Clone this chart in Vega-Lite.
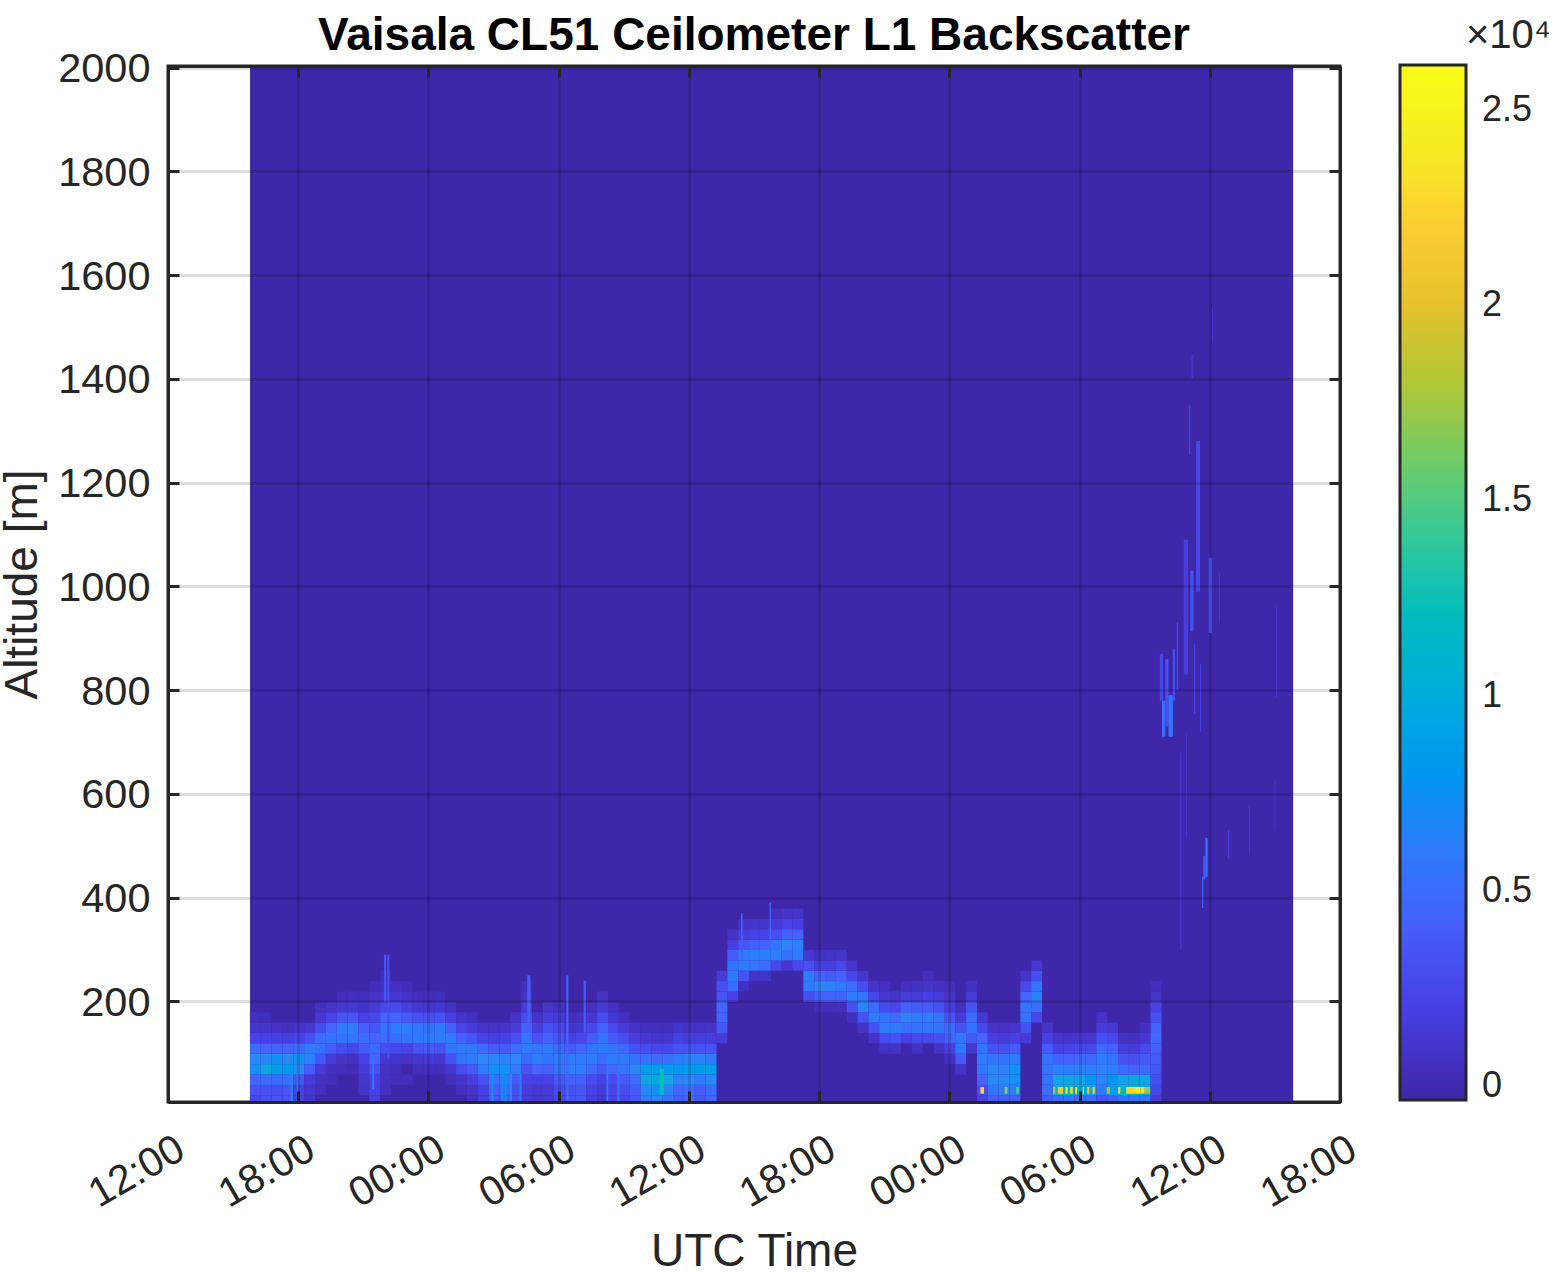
{"$schema":"https://vega.github.io/schema/vega-lite/v6.json","width":1172,"height":1036,"autosize":{"type":"none"},"padding":{"left":168,"top":66,"right":216,"bottom":170},"background":"white","config":{"font":"Liberation Sans","view":{"stroke":"#262626","strokeWidth":3}},"title":{"text":"Vaisala CL51 Ceilometer L1 Backscatter","font":"Liberation Sans","fontSize":46,"fontWeight":"bold","color":"#000000","anchor":"middle","offset":-44},
"datasets":{"bg":[{"h":15.78,"h2":63.84,"a":6,"a2":2003,"v":-300}],
"band":[
{"h":16,"a":10,"v":2500},{"h":16,"a":30,"v":3000},{"h":16,"a":50,"v":4500},{"h":16,"a":70,"v":7500},{"h":16,"a":90,"v":7000},{"h":16,"a":110,"v":5000},{"h":16,"a":130,"v":2200},{"h":16,"a":150,"v":1000},{"h":16,"a":170,"v":600},
{"h":16.5,"a":10,"v":3000},{"h":16.5,"a":30,"v":3000},{"h":16.5,"a":50,"v":5000},{"h":16.5,"a":70,"v":9500},{"h":16.5,"a":90,"v":7000},{"h":16.5,"a":110,"v":4500},{"h":16.5,"a":130,"v":2000},{"h":16.5,"a":150,"v":900},{"h":16.5,"a":170,"v":500},
{"h":17,"a":10,"v":3500},{"h":17,"a":30,"v":3000},{"h":17,"a":50,"v":5000},{"h":17,"a":70,"v":8500},{"h":17,"a":90,"v":7500},{"h":17,"a":110,"v":4500},{"h":17,"a":130,"v":2000},{"h":17,"a":150,"v":800},
{"h":17.5,"a":10,"v":3500},{"h":17.5,"a":30,"v":3500},{"h":17.5,"a":50,"v":5500},{"h":17.5,"a":70,"v":8000},{"h":17.5,"a":90,"v":7000},{"h":17.5,"a":110,"v":4500},{"h":17.5,"a":130,"v":1800},{"h":17.5,"a":150,"v":700},
{"h":18,"a":10,"v":1800},{"h":18,"a":30,"v":2000},{"h":18,"a":50,"v":3500},{"h":18,"a":70,"v":7000},{"h":18,"a":90,"v":7500},{"h":18,"a":110,"v":5000},{"h":18,"a":130,"v":2200},{"h":18,"a":150,"v":900},
{"h":18.5,"a":10,"v":1000},{"h":18.5,"a":30,"v":1000},{"h":18.5,"a":50,"v":1500},{"h":18.5,"a":70,"v":4000},{"h":18.5,"a":90,"v":6500},{"h":18.5,"a":110,"v":6000},{"h":18.5,"a":130,"v":3000},{"h":18.5,"a":150,"v":1200},
{"h":19,"a":30,"v":500},{"h":19,"a":50,"v":700},{"h":19,"a":70,"v":1500},{"h":19,"a":90,"v":3500},{"h":19,"a":110,"v":5500},{"h":19,"a":130,"v":5000},{"h":19,"a":150,"v":2800},{"h":19,"a":170,"v":1200},{"h":19,"a":190,"v":500},
{"h":19.5,"a":50,"v":400},{"h":19.5,"a":70,"v":600},{"h":19.5,"a":90,"v":1500},{"h":19.5,"a":110,"v":4000},{"h":19.5,"a":130,"v":5500},{"h":19.5,"a":150,"v":4500},{"h":19.5,"a":170,"v":2200},{"h":19.5,"a":190,"v":900},
{"h":20,"a":70,"v":400},{"h":20,"a":90,"v":800},{"h":20,"a":110,"v":2800},{"h":20,"a":130,"v":5500},{"h":20,"a":150,"v":6000},{"h":20,"a":170,"v":3500},{"h":20,"a":190,"v":1200},{"h":20,"a":210,"v":400},
{"h":20.5,"a":70,"v":300},{"h":20.5,"a":90,"v":600},{"h":20.5,"a":110,"v":2500},{"h":20.5,"a":130,"v":5500},{"h":20.5,"a":150,"v":6000},{"h":20.5,"a":170,"v":3500},{"h":20.5,"a":190,"v":1300},{"h":20.5,"a":210,"v":500},
{"h":21,"a":30,"v":1000},{"h":21,"a":50,"v":1200},{"h":21,"a":70,"v":1500},{"h":21,"a":90,"v":2000},{"h":21,"a":110,"v":3800},{"h":21,"a":130,"v":5000},{"h":21,"a":150,"v":4000},{"h":21,"a":170,"v":2000},{"h":21,"a":190,"v":1000},{"h":21,"a":210,"v":500},
{"h":21.5,"a":10,"v":1800},{"h":21.5,"a":30,"v":2000},{"h":21.5,"a":50,"v":2000},{"h":21.5,"a":70,"v":3000},{"h":21.5,"a":90,"v":4500},{"h":21.5,"a":110,"v":5000},{"h":21.5,"a":130,"v":4500},{"h":21.5,"a":150,"v":3500},{"h":21.5,"a":170,"v":2500},{"h":21.5,"a":190,"v":1500},{"h":21.5,"a":210,"v":800},{"h":21.5,"a":230,"v":400},
{"h":22,"a":30,"v":600},{"h":22,"a":50,"v":700},{"h":22,"a":70,"v":700},{"h":22,"a":90,"v":1300},{"h":22,"a":110,"v":3000},{"h":22,"a":130,"v":5000},{"h":22,"a":150,"v":5500},{"h":22,"a":170,"v":4500},{"h":22,"a":190,"v":2500},{"h":22,"a":210,"v":1200},{"h":22,"a":230,"v":700},{"h":22,"a":250,"v":400},
{"h":22.5,"a":50,"v":400},{"h":22.5,"a":70,"v":400},{"h":22.5,"a":90,"v":1000},{"h":22.5,"a":110,"v":2500},{"h":22.5,"a":130,"v":5000},{"h":22.5,"a":150,"v":6000},{"h":22.5,"a":170,"v":4500},{"h":22.5,"a":190,"v":2800},{"h":22.5,"a":210,"v":1300},{"h":22.5,"a":230,"v":600},
{"h":23,"a":50,"v":400},{"h":23,"a":90,"v":800},{"h":23,"a":110,"v":2200},{"h":23,"a":130,"v":5500},{"h":23,"a":150,"v":6000},{"h":23,"a":170,"v":3800},{"h":23,"a":190,"v":1800},{"h":23,"a":210,"v":800},{"h":23,"a":230,"v":300},
{"h":23.5,"a":70,"v":500},{"h":23.5,"a":90,"v":1100},{"h":23.5,"a":110,"v":3300},{"h":23.5,"a":130,"v":5800},{"h":23.5,"a":150,"v":5500},{"h":23.5,"a":170,"v":3300},{"h":23.5,"a":190,"v":1300},{"h":23.5,"a":210,"v":500},
{"h":24,"a":70,"v":600},{"h":24,"a":90,"v":1500},{"h":24,"a":110,"v":3800},{"h":24,"a":130,"v":6000},{"h":24,"a":150,"v":5500},{"h":24,"a":170,"v":3000},{"h":24,"a":190,"v":1200},{"h":24,"a":210,"v":400},
{"h":24.5,"a":70,"v":500},{"h":24.5,"a":90,"v":1200},{"h":24.5,"a":110,"v":3300},{"h":24.5,"a":130,"v":6000},{"h":24.5,"a":150,"v":6000},{"h":24.5,"a":170,"v":3200},{"h":24.5,"a":190,"v":1300},{"h":24.5,"a":210,"v":500},
{"h":25,"a":50,"v":500},{"h":25,"a":70,"v":1200},{"h":25,"a":90,"v":3300},{"h":25,"a":110,"v":5500},{"h":25,"a":130,"v":6000},{"h":25,"a":150,"v":4000},{"h":25,"a":170,"v":1800},{"h":25,"a":190,"v":700},
{"h":25.5,"a":30,"v":500},{"h":25.5,"a":50,"v":1000},{"h":25.5,"a":70,"v":2800},{"h":25.5,"a":90,"v":5500},{"h":25.5,"a":110,"v":6000},{"h":25.5,"a":130,"v":4300},{"h":25.5,"a":150,"v":2200},{"h":25.5,"a":170,"v":900},
{"h":26,"a":10,"v":600},{"h":26,"a":30,"v":800},{"h":26,"a":50,"v":1800},{"h":26,"a":70,"v":3800},{"h":26,"a":90,"v":6000},{"h":26,"a":110,"v":6000},{"h":26,"a":130,"v":3500},{"h":26,"a":150,"v":1500},{"h":26,"a":170,"v":600},
{"h":26.5,"a":10,"v":1800},{"h":26.5,"a":30,"v":2000},{"h":26.5,"a":50,"v":3300},{"h":26.5,"a":70,"v":6000},{"h":26.5,"a":90,"v":6800},{"h":26.5,"a":110,"v":4800},{"h":26.5,"a":130,"v":2200},{"h":26.5,"a":150,"v":900},
{"h":27,"a":10,"v":3500},{"h":27,"a":30,"v":4000},{"h":27,"a":50,"v":5200},{"h":27,"a":70,"v":7500},{"h":27,"a":90,"v":6800},{"h":27,"a":110,"v":3800},{"h":27,"a":130,"v":1800},{"h":27,"a":150,"v":800},
{"h":27.5,"a":10,"v":4000},{"h":27.5,"a":30,"v":4200},{"h":27.5,"a":50,"v":5500},{"h":27.5,"a":70,"v":7500},{"h":27.5,"a":90,"v":6500},{"h":27.5,"a":110,"v":3800},{"h":27.5,"a":130,"v":2000},{"h":27.5,"a":150,"v":900},
{"h":28,"a":10,"v":2800},{"h":28,"a":30,"v":3000},{"h":28,"a":50,"v":3800},{"h":28,"a":70,"v":6000},{"h":28,"a":90,"v":6800},{"h":28,"a":110,"v":5000},{"h":28,"a":130,"v":3000},{"h":28,"a":150,"v":1500},{"h":28,"a":170,"v":800},
{"h":28.5,"a":10,"v":1500},{"h":28.5,"a":30,"v":1600},{"h":28.5,"a":50,"v":2000},{"h":28.5,"a":70,"v":3300},{"h":28.5,"a":90,"v":4800},{"h":28.5,"a":110,"v":6000},{"h":28.5,"a":130,"v":5500},{"h":28.5,"a":150,"v":4300},{"h":28.5,"a":170,"v":2800},{"h":28.5,"a":190,"v":1600},{"h":28.5,"a":210,"v":800},{"h":28.5,"a":230,"v":500},
{"h":29,"a":10,"v":1200},{"h":29,"a":30,"v":1300},{"h":29,"a":50,"v":2000},{"h":29,"a":70,"v":4500},{"h":29,"a":90,"v":6000},{"h":29,"a":110,"v":5500},{"h":29,"a":130,"v":3300},{"h":29,"a":150,"v":1800},{"h":29,"a":170,"v":800},
{"h":29.5,"a":10,"v":1500},{"h":29.5,"a":30,"v":1500},{"h":29.5,"a":50,"v":2200},{"h":29.5,"a":70,"v":4300},{"h":29.5,"a":90,"v":5500},{"h":29.5,"a":110,"v":6000},{"h":29.5,"a":130,"v":4300},{"h":29.5,"a":150,"v":3000},{"h":29.5,"a":170,"v":1800},{"h":29.5,"a":190,"v":900},
{"h":30,"a":10,"v":2500},{"h":30,"a":30,"v":2800},{"h":30,"a":50,"v":3800},{"h":30,"a":70,"v":5500},{"h":30,"a":90,"v":6000},{"h":30,"a":110,"v":5000},{"h":30,"a":130,"v":3300},{"h":30,"a":150,"v":2500},{"h":30,"a":170,"v":1500},{"h":30,"a":190,"v":700},
{"h":30.5,"a":10,"v":3000},{"h":30.5,"a":30,"v":3000},{"h":30.5,"a":50,"v":4300},{"h":30.5,"a":70,"v":6500},{"h":30.5,"a":90,"v":6000},{"h":30.5,"a":110,"v":3800},{"h":30.5,"a":130,"v":2000},{"h":30.5,"a":150,"v":1000},{"h":30.5,"a":170,"v":500},
{"h":31,"a":10,"v":3500},{"h":31,"a":30,"v":3500},{"h":31,"a":50,"v":4300},{"h":31,"a":70,"v":6000},{"h":31,"a":90,"v":6000},{"h":31,"a":110,"v":4500},{"h":31,"a":130,"v":2500},{"h":31,"a":150,"v":1300},{"h":31,"a":170,"v":700},
{"h":31.5,"a":10,"v":1800},{"h":31.5,"a":30,"v":2000},{"h":31.5,"a":50,"v":2800},{"h":31.5,"a":70,"v":4800},{"h":31.5,"a":90,"v":6000},{"h":31.5,"a":110,"v":5500},{"h":31.5,"a":130,"v":3800},{"h":31.5,"a":150,"v":2500},{"h":31.5,"a":170,"v":1200},{"h":31.5,"a":190,"v":600},
{"h":32,"a":10,"v":1300},{"h":32,"a":30,"v":1500},{"h":32,"a":50,"v":2000},{"h":32,"a":70,"v":3600},{"h":32,"a":90,"v":5000},{"h":32,"a":110,"v":6000},{"h":32,"a":130,"v":5500},{"h":32,"a":150,"v":4300},{"h":32,"a":170,"v":2800},{"h":32,"a":190,"v":1500},{"h":32,"a":210,"v":800},
{"h":32.5,"a":10,"v":2000},{"h":32.5,"a":30,"v":2200},{"h":32.5,"a":50,"v":2800},{"h":32.5,"a":70,"v":4700},{"h":32.5,"a":90,"v":6000},{"h":32.5,"a":110,"v":5500},{"h":32.5,"a":130,"v":3800},{"h":32.5,"a":150,"v":2500},{"h":32.5,"a":170,"v":1300},{"h":32.5,"a":190,"v":600},
{"h":33,"a":10,"v":2500},{"h":33,"a":30,"v":2800},{"h":33,"a":50,"v":3800},{"h":33,"a":70,"v":5500},{"h":33,"a":90,"v":6000},{"h":33,"a":110,"v":4700},{"h":33,"a":130,"v":2800},{"h":33,"a":150,"v":1400},{"h":33,"a":170,"v":600},
{"h":33.5,"a":10,"v":3500},{"h":33.5,"a":30,"v":3800},{"h":33.5,"a":50,"v":5000},{"h":33.5,"a":70,"v":6800},{"h":33.5,"a":90,"v":5500},{"h":33.5,"a":110,"v":3300},{"h":33.5,"a":130,"v":1700},{"h":33.5,"a":150,"v":800},
{"h":34,"a":10,"v":6000},{"h":34,"a":30,"v":7000},{"h":34,"a":50,"v":9500},{"h":34,"a":70,"v":8500},{"h":34,"a":90,"v":5200},{"h":34,"a":110,"v":2800},{"h":34,"a":130,"v":1200},{"h":34,"a":150,"v":500},
{"h":34.5,"a":10,"v":6500},{"h":34.5,"a":30,"v":7500},{"h":34.5,"a":50,"v":10000},{"h":34.5,"a":70,"v":8500},{"h":34.5,"a":90,"v":4800},{"h":34.5,"a":110,"v":2400},{"h":34.5,"a":130,"v":1000},{"h":34.5,"a":150,"v":500},
{"h":35,"a":10,"v":5500},{"h":35,"a":30,"v":6500},{"h":35,"a":50,"v":9000},{"h":35,"a":70,"v":8500},{"h":35,"a":90,"v":5200},{"h":35,"a":110,"v":2500},{"h":35,"a":130,"v":1000},{"h":35,"a":150,"v":500},
{"h":35.5,"a":10,"v":4000},{"h":35.5,"a":30,"v":4500},{"h":35.5,"a":50,"v":6500},{"h":35.5,"a":70,"v":8000},{"h":35.5,"a":90,"v":6000},{"h":35.5,"a":110,"v":3300},{"h":35.5,"a":130,"v":2000},{"h":35.5,"a":150,"v":1000},
{"h":36,"a":10,"v":4500},{"h":36,"a":30,"v":5000},{"h":36,"a":50,"v":7000},{"h":36,"a":70,"v":8500},{"h":36,"a":90,"v":6500},{"h":36,"a":110,"v":3300},{"h":36,"a":130,"v":1700},{"h":36,"a":150,"v":800},
{"h":36.5,"a":10,"v":3500},{"h":36.5,"a":30,"v":4000},{"h":36.5,"a":50,"v":6000},{"h":36.5,"a":70,"v":8500},{"h":36.5,"a":90,"v":6500},{"h":36.5,"a":110,"v":3300},{"h":36.5,"a":130,"v":1800},{"h":36.5,"a":150,"v":800},
{"h":37,"a":10,"v":4500},{"h":37,"a":30,"v":5000},{"h":37,"a":50,"v":7000},{"h":37,"a":70,"v":8500},{"h":37,"a":90,"v":6000},{"h":37,"a":110,"v":3300},{"h":37,"a":130,"v":1700},{"h":37,"a":150,"v":800},
{"h":37.5,"a":130,"v":1500},{"h":37.5,"a":150,"v":3500},{"h":37.5,"a":170,"v":4500},{"h":37.5,"a":190,"v":4500},{"h":37.5,"a":210,"v":3500},{"h":37.5,"a":230,"v":3000},{"h":37.5,"a":250,"v":1500},
{"h":38,"a":210,"v":2000},{"h":38,"a":230,"v":4800},{"h":38,"a":250,"v":6000},{"h":38,"a":270,"v":5500},{"h":38,"a":290,"v":3800},{"h":38,"a":310,"v":1800},{"h":38,"a":330,"v":800},
{"h":38.5,"a":230,"v":700},{"h":38.5,"a":250,"v":3300},{"h":38.5,"a":270,"v":6000},{"h":38.5,"a":290,"v":6000},{"h":38.5,"a":310,"v":3500},{"h":38.5,"a":330,"v":1800},{"h":38.5,"a":350,"v":800},
{"h":39,"a":250,"v":1000},{"h":39,"a":270,"v":5500},{"h":39,"a":290,"v":6300},{"h":39,"a":310,"v":4000},{"h":39,"a":330,"v":2000},{"h":39,"a":350,"v":900},
{"h":39.5,"a":250,"v":1000},{"h":39.5,"a":270,"v":5000},{"h":39.5,"a":290,"v":6300},{"h":39.5,"a":310,"v":4300},{"h":39.5,"a":330,"v":2200},{"h":39.5,"a":350,"v":1000},
{"h":40,"a":270,"v":2500},{"h":40,"a":290,"v":6300},{"h":40,"a":310,"v":5500},{"h":40,"a":330,"v":3000},{"h":40,"a":350,"v":1500},{"h":40,"a":370,"v":600},
{"h":40.5,"a":270,"v":1200},{"h":40.5,"a":290,"v":5500},{"h":40.5,"a":310,"v":6800},{"h":40.5,"a":330,"v":4300},{"h":40.5,"a":350,"v":2200},{"h":40.5,"a":370,"v":1000},
{"h":41,"a":270,"v":2500},{"h":41,"a":290,"v":6000},{"h":41,"a":310,"v":6300},{"h":41,"a":330,"v":4300},{"h":41,"a":350,"v":2000},{"h":41,"a":370,"v":900},
{"h":41.5,"a":210,"v":3000},{"h":41.5,"a":230,"v":6000},{"h":41.5,"a":250,"v":6000},{"h":41.5,"a":270,"v":3000},{"h":41.5,"a":290,"v":1200},
{"h":42,"a":190,"v":400},{"h":42,"a":210,"v":4300},{"h":42,"a":230,"v":6800},{"h":42,"a":250,"v":4300},{"h":42,"a":270,"v":1800},{"h":42,"a":290,"v":700},
{"h":42.5,"a":190,"v":400},{"h":42.5,"a":210,"v":4300},{"h":42.5,"a":230,"v":6500},{"h":42.5,"a":250,"v":3800},{"h":42.5,"a":270,"v":1800},{"h":42.5,"a":290,"v":800},
{"h":43,"a":190,"v":500},{"h":43,"a":210,"v":4300},{"h":43,"a":230,"v":6000},{"h":43,"a":250,"v":4300},{"h":43,"a":270,"v":2500},{"h":43,"a":290,"v":1000},
{"h":43.5,"a":170,"v":700},{"h":43.5,"a":190,"v":3300},{"h":43.5,"a":210,"v":6000},{"h":43.5,"a":230,"v":5000},{"h":43.5,"a":250,"v":2500},{"h":43.5,"a":270,"v":1000},
{"h":44,"a":150,"v":800},{"h":44,"a":170,"v":3300},{"h":44,"a":190,"v":6500},{"h":44,"a":210,"v":5500},{"h":44,"a":230,"v":2800},{"h":44,"a":250,"v":1200},
{"h":44.5,"a":130,"v":800},{"h":44.5,"a":150,"v":3000},{"h":44.5,"a":170,"v":6000},{"h":44.5,"a":190,"v":5000},{"h":44.5,"a":210,"v":2500},{"h":44.5,"a":230,"v":900},
{"h":45,"a":110,"v":700},{"h":45,"a":130,"v":2800},{"h":45,"a":150,"v":6000},{"h":45,"a":170,"v":5500},{"h":45,"a":190,"v":2800},{"h":45,"a":210,"v":1200},{"h":45,"a":230,"v":600},
{"h":45.5,"a":110,"v":800},{"h":45.5,"a":130,"v":3300},{"h":45.5,"a":150,"v":6000},{"h":45.5,"a":170,"v":5000},{"h":45.5,"a":190,"v":2500},{"h":45.5,"a":210,"v":1000},
{"h":46,"a":130,"v":2000},{"h":46,"a":150,"v":5000},{"h":46,"a":170,"v":6500},{"h":46,"a":190,"v":4300},{"h":46,"a":210,"v":1700},{"h":46,"a":230,"v":600},
{"h":46.5,"a":110,"v":700},{"h":46.5,"a":130,"v":2500},{"h":46.5,"a":150,"v":5500},{"h":46.5,"a":170,"v":6000},{"h":46.5,"a":190,"v":3800},{"h":46.5,"a":210,"v":1500},{"h":46.5,"a":230,"v":700},
{"h":47,"a":130,"v":2500},{"h":47,"a":150,"v":5500},{"h":47,"a":170,"v":6000},{"h":47,"a":190,"v":3800},{"h":47,"a":210,"v":2000},{"h":47,"a":230,"v":900},{"h":47,"a":250,"v":400},
{"h":47.5,"a":110,"v":800},{"h":47.5,"a":130,"v":3000},{"h":47.5,"a":150,"v":5500},{"h":47.5,"a":170,"v":5500},{"h":47.5,"a":190,"v":3300},{"h":47.5,"a":210,"v":1600},{"h":47.5,"a":230,"v":700},
{"h":48,"a":90,"v":700},{"h":48,"a":110,"v":2000},{"h":48,"a":130,"v":4300},{"h":48,"a":150,"v":5000},{"h":48,"a":170,"v":3300},{"h":48,"a":190,"v":1700},{"h":48,"a":210,"v":900},{"h":48,"a":230,"v":500},
{"h":48.5,"a":70,"v":1000},{"h":48.5,"a":90,"v":3800},{"h":48.5,"a":110,"v":6000},{"h":48.5,"a":130,"v":5500},{"h":48.5,"a":150,"v":3300},{"h":48.5,"a":170,"v":1500},{"h":48.5,"a":190,"v":600},
{"h":49,"a":110,"v":1200},{"h":49,"a":130,"v":3800},{"h":49,"a":150,"v":5500},{"h":49,"a":170,"v":5000},{"h":49,"a":190,"v":3300},{"h":49,"a":210,"v":1500},{"h":49,"a":230,"v":700},
{"h":49.5,"a":10,"v":2000},{"h":49.5,"a":30,"v":2800},{"h":49.5,"a":50,"v":4500},{"h":49.5,"a":70,"v":5800},{"h":49.5,"a":90,"v":6000},{"h":49.5,"a":110,"v":5500},{"h":49.5,"a":130,"v":4500},{"h":49.5,"a":150,"v":2500},{"h":49.5,"a":170,"v":1200},
{"h":50,"a":10,"v":4000},{"h":50,"a":30,"v":5500},{"h":50,"a":50,"v":7000},{"h":50,"a":70,"v":7000},{"h":50,"a":90,"v":5500},{"h":50,"a":110,"v":3300},{"h":50,"a":130,"v":1800},{"h":50,"a":150,"v":800},
{"h":50.5,"a":10,"v":4000},{"h":50.5,"a":30,"v":6000},{"h":50.5,"a":50,"v":7000},{"h":50.5,"a":70,"v":6500},{"h":50.5,"a":90,"v":5500},{"h":50.5,"a":110,"v":3000},{"h":50.5,"a":130,"v":1500},{"h":50.5,"a":150,"v":800},
{"h":51,"a":10,"v":4000},{"h":51,"a":30,"v":6000},{"h":51,"a":50,"v":7500},{"h":51,"a":70,"v":7500},{"h":51,"a":90,"v":6000},{"h":51,"a":110,"v":3800},{"h":51,"a":130,"v":2000},{"h":51,"a":150,"v":1000},
{"h":51.5,"a":130,"v":1500},{"h":51.5,"a":150,"v":3300},{"h":51.5,"a":170,"v":5500},{"h":51.5,"a":190,"v":5500},{"h":51.5,"a":210,"v":4500},{"h":51.5,"a":230,"v":2500},{"h":51.5,"a":250,"v":1000},
{"h":52,"a":170,"v":2500},{"h":52,"a":190,"v":5000},{"h":52,"a":210,"v":6500},{"h":52,"a":230,"v":5500},{"h":52,"a":250,"v":3000},{"h":52,"a":270,"v":1200},
{"h":52.5,"a":10,"v":4000},{"h":52.5,"a":30,"v":5000},{"h":52.5,"a":50,"v":5500},{"h":52.5,"a":70,"v":5500},{"h":52.5,"a":90,"v":5500},{"h":52.5,"a":110,"v":3800},{"h":52.5,"a":130,"v":2000},{"h":52.5,"a":150,"v":900},
{"h":53,"a":10,"v":5000},{"h":53,"a":30,"v":11000},{"h":53,"a":50,"v":9000},{"h":53,"a":70,"v":6500},{"h":53,"a":90,"v":4300},{"h":53,"a":110,"v":2000},{"h":53,"a":130,"v":900},
{"h":53.5,"a":10,"v":5500},{"h":53.5,"a":30,"v":11500},{"h":53.5,"a":50,"v":9500},{"h":53.5,"a":70,"v":6300},{"h":53.5,"a":90,"v":4300},{"h":53.5,"a":110,"v":2200},{"h":53.5,"a":130,"v":1000},
{"h":54,"a":10,"v":4500},{"h":54,"a":30,"v":10500},{"h":54,"a":50,"v":9000},{"h":54,"a":70,"v":6500},{"h":54,"a":90,"v":4800},{"h":54,"a":110,"v":2500},{"h":54,"a":130,"v":1200},
{"h":54.5,"a":10,"v":5000},{"h":54.5,"a":30,"v":9500},{"h":54.5,"a":50,"v":8000},{"h":54.5,"a":70,"v":6300},{"h":54.5,"a":90,"v":4800},{"h":54.5,"a":110,"v":2500},{"h":54.5,"a":130,"v":1200},
{"h":55,"a":10,"v":3500},{"h":55,"a":30,"v":5800},{"h":55,"a":50,"v":6500},{"h":55,"a":70,"v":6500},{"h":55,"a":90,"v":6000},{"h":55,"a":110,"v":4800},{"h":55,"a":130,"v":3000},{"h":55,"a":150,"v":1500},{"h":55,"a":170,"v":800},
{"h":55.5,"a":10,"v":4000},{"h":55.5,"a":30,"v":8500},{"h":55.5,"a":50,"v":8000},{"h":55.5,"a":70,"v":6300},{"h":55.5,"a":90,"v":5500},{"h":55.5,"a":110,"v":4300},{"h":55.5,"a":130,"v":2500},{"h":55.5,"a":150,"v":1300},
{"h":56,"a":10,"v":5500},{"h":56,"a":30,"v":11000},{"h":56,"a":50,"v":9000},{"h":56,"a":70,"v":4800},{"h":56,"a":90,"v":3300},{"h":56,"a":110,"v":1800},{"h":56,"a":130,"v":800},
{"h":56.5,"a":10,"v":5500},{"h":56.5,"a":30,"v":11500},{"h":56.5,"a":50,"v":9500},{"h":56.5,"a":70,"v":4300},{"h":56.5,"a":90,"v":3000},{"h":56.5,"a":110,"v":1500},{"h":56.5,"a":130,"v":700},
{"h":57,"a":10,"v":5500},{"h":57,"a":30,"v":10000},{"h":57,"a":50,"v":9000},{"h":57,"a":70,"v":4800},{"h":57,"a":90,"v":3800},{"h":57,"a":110,"v":2500},{"h":57,"a":130,"v":1200},{"h":57,"a":150,"v":600},
{"h":57.5,"a":10,"v":1500},{"h":57.5,"a":30,"v":2500},{"h":57.5,"a":50,"v":3000},{"h":57.5,"a":70,"v":3500},{"h":57.5,"a":90,"v":3800},{"h":57.5,"a":110,"v":4300},{"h":57.5,"a":130,"v":4800},{"h":57.5,"a":150,"v":4300},{"h":57.5,"a":170,"v":3300},{"h":57.5,"a":190,"v":2000},{"h":57.5,"a":210,"v":1000},{"h":57.5,"a":230,"v":500}],
"spots":[
{"h":17.65,"h2":17.75,"a":6,"a2":60,"v":6500},{"h":17.93,"h2":18,"a":6,"a2":60,"v":6500},{"h":21.4,"h2":21.5,"a":30,"a2":90,"v":5500},{"h":22.1,"h2":22.2,"a":90,"a2":290,"v":3000},{"h":21.95,"h2":22.05,"a":200,"a2":290,"v":3500},{"h":26.9,"h2":27,"a":6,"a2":60,"v":7500},{"h":27.35,"h2":27.45,"a":6,"a2":60,"v":7500},{"h":27.5,"h2":27.6,"a":6,"a2":70,"v":8000},{"h":27.75,"h2":27.85,"a":6,"a2":60,"v":6500},{"h":28.2,"h2":28.3,"a":6,"a2":60,"v":5500},{"h":28.55,"h2":28.7,"a":140,"a2":250,"v":4000},{"h":30.35,"h2":30.45,"a":6,"a2":250,"v":4500},{"h":31.15,"h2":31.25,"a":140,"a2":240,"v":4000},{"h":32.2,"h2":32.28,"a":6,"a2":90,"v":6000},{"h":32.7,"h2":32.8,"a":6,"a2":90,"v":5500},{"h":34.65,"h2":34.85,"a":20,"a2":70,"v":12500},{"h":39.72,"h2":39.78,"a":300,"a2":390,"v":5000},{"h":38.4,"h2":38.48,"a":280,"a2":370,"v":4000},
{"h":49.43,"h2":49.6,"a":22,"a2":35,"v":22000},{"h":50.55,"h2":50.68,"a":22,"a2":35,"v":17000},{"h":51.08,"h2":51.2,"a":22,"a2":35,"v":15000},{"h":52.78,"h2":52.88,"a":22,"a2":35,"v":18000},{"h":53,"h2":53.25,"a":22,"a2":35,"v":21500},{"h":53.35,"h2":53.45,"a":22,"a2":35,"v":24800},{"h":53.57,"h2":53.69,"a":22,"a2":35,"v":22000},{"h":53.8,"h2":53.88,"a":22,"a2":35,"v":24000},{"h":54.15,"h2":54.2,"a":22,"a2":35,"v":23000},{"h":54.35,"h2":54.45,"a":22,"a2":35,"v":21000},{"h":54.6,"h2":54.7,"a":22,"a2":35,"v":22000},{"h":55.25,"h2":55.4,"a":22,"a2":35,"v":17000},{"h":55.78,"h2":55.88,"a":22,"a2":35,"v":22000},{"h":56.15,"h2":56.6,"a":22,"a2":35,"v":22500},{"h":56.6,"h2":56.8,"a":22,"a2":35,"v":25000},{"h":56.8,"h2":57,"a":22,"a2":35,"v":22500},{"h":57,"h2":57.25,"a":22,"a2":35,"v":17000},
{"h":57.8,"h2":57.95,"a":710,"a2":780,"v":5000},{"h":57.95,"h2":58.1,"a":730,"a2":860,"v":3000},{"h":58.1,"h2":58.3,"a":710,"a2":790,"v":5500},{"h":58.3,"h2":58.4,"a":780,"a2":880,"v":3000},{"h":57.7,"h2":57.85,"a":780,"a2":870,"v":2500},{"h":58.48,"h2":58.54,"a":800,"a2":930,"v":2500},{"h":58.8,"h2":59,"a":830,"a2":1090,"v":1800},{"h":59.06,"h2":59.1,"a":1255,"a2":1350,"v":4000},{"h":59.1,"h2":59.25,"a":913,"a2":1030,"v":3200},{"h":59.37,"h2":59.55,"a":990,"a2":1280,"v":2500},{"h":59.27,"h2":59.33,"a":754,"a2":890,"v":2000},{"h":59.55,"h2":59.6,"a":720,"a2":850,"v":2000},{"h":59.95,"h2":60.1,"a":910,"a2":1055,"v":3500},{"h":60.43,"h2":60.47,"a":930,"a2":1025,"v":1300},{"h":60.1,"h2":60.15,"a":1470,"a2":1535,"v":1000},{"h":59.15,"h2":59.25,"a":1400,"a2":1447,"v":900},{"h":63.05,"h2":63.1,"a":785,"a2":960,"v":1300},{"h":59.65,"h2":59.7,"a":380,"a2":440,"v":5000},{"h":59.7,"h2":59.8,"a":435,"a2":480,"v":4000},{"h":59.8,"h2":59.9,"a":440,"a2":515,"v":5500},{"h":60.83,"h2":60.9,"a":475,"a2":530,"v":1800},{"h":61.8,"h2":61.85,"a":482,"a2":578,"v":1200},{"h":62.98,"h2":63.02,"a":530,"a2":625,"v":900},{"h":58.63,"h2":58.7,"a":300,"a2":680,"v":1200},{"h":58.9,"h2":58.95,"a":515,"a2":715,"v":900}]},
"encoding":{"color":{"field":"v","type":"quantitative","scale":{"domain":[-360,2050,4460,6870,9280,11690,14100,16510,18920,21330,23740,26150],"range":["#3e26a8","#4741e5","#4563fd","#2d87f7","#20a5e3","#02bac3","#37c897","#80cc59","#d1bf27","#fec338","#f5e924","#f9fb15"]},"legend":{"title":"×10⁴","titleFont":"Liberation Sans","titleFontSize":40,"titleFontWeight":"normal","titleColor":"#262626","titleAnchor":"middle","titleAlign":"left","titlePadding":9,"gradientLength":1035,"gradientThickness":66,"gradientStrokeColor":"#262626","gradientStrokeWidth":3,"values":[0,5000,10000,15000,20000,25000],"labelExpr":"datum.value/10000","labelFont":"Liberation Sans","labelFontSize":36,"labelColor":"#262626","labelOffset":16,"orient":"none","legendX":1232,"legendY":-50}}},
"resolve":{"axis":{"x":"independent","y":"independent"}},
"layer":[
{"data":{"name":"bg"},"mark":{"type":"rect","clip":true},"encoding":{"x":{"field":"h","type":"quantitative","scale":{"domain":[12,66],"nice":false,"zero":false},"axis":{"orient":"bottom","title":"UTC Time","titleFont":"Liberation Sans","titleFontSize":46,"titleFontWeight":"normal","titleColor":"#262626","titlePadding":15,"values":[12,18,24,30,36,42,48,54,60,66],"labelExpr":"(datum.value%24<10?'0':'')+(datum.value%24)+':00'","labelFont":"Liberation Sans","labelFontSize":41,"labelColor":"#262626","labelAngle":-30,"labelAlign":"right","labelBaseline":"middle","labelPadding":55,"labelOffset":13,"labelOverlap":false,"labelBound":false,"labelFlush":false,"tickSize":-11,"tickWidth":3,"tickColor":"#262626","domainColor":"#262626","domainWidth":3,"grid":true,"gridColor":"#000000","gridOpacity":0.13,"gridWidth":3,"zindex":1}},"x2":{"field":"h2"},"y":{"field":"a","type":"quantitative","scale":{"domain":[6,2003],"nice":false,"zero":false},"axis":{"orient":"left","title":"Altitude [m]","titleFont":"Liberation Sans","titleFontSize":46,"titleFontWeight":"normal","titleColor":"#262626","titlePadding":11,"values":[200,400,600,800,1000,1200,1400,1600,1800,2000],"format":"d","labelFont":"Liberation Sans","labelFontSize":41.5,"labelColor":"#262626","labelPadding":29,"labelOffset":2,"labelOverlap":false,"labelBound":false,"labelFlush":false,"tickSize":-11,"tickWidth":3,"tickColor":"#262626","domainColor":"#262626","domainWidth":3,"grid":true,"gridColor":"#000000","gridOpacity":0.13,"gridWidth":3,"zindex":1}},"y2":{"field":"a2"}}},
{"data":{"name":"band"},"mark":{"type":"rect","clip":true},"encoding":{"x":{"field":"h","type":"quantitative","bin":{"extent":[15.75,63.75],"step":0.5,"nice":false},"scale":{"domain":[12,66],"nice":false,"zero":false},"axis":null},"y":{"field":"a","type":"quantitative","bin":{"extent":[0,2000],"step":20,"nice":false},"scale":{"domain":[6,2003],"nice":false,"zero":false},"axis":null}}},
{"data":{"name":"spots"},"mark":{"type":"rect","clip":true},"encoding":{"x":{"field":"h","type":"quantitative","scale":{"domain":[12,66],"nice":false,"zero":false},"axis":{"orient":"top","title":null,"labels":false,"values":[18,24,30,36,42,48,54,60],"tickSize":-11,"tickWidth":3,"tickColor":"#262626","domainColor":"#262626","domainWidth":3,"grid":false,"zindex":1}},"x2":{"field":"h2"},"y":{"field":"a","type":"quantitative","scale":{"domain":[6,2003],"nice":false,"zero":false},"axis":{"orient":"right","title":null,"labels":false,"values":[200,400,600,800,1000,1200,1400,1600,1800,2000],"tickSize":-11,"tickWidth":3,"tickColor":"#262626","domainColor":"#262626","domainWidth":3,"grid":false,"zindex":1}},"y2":{"field":"a2"}}}
]}
